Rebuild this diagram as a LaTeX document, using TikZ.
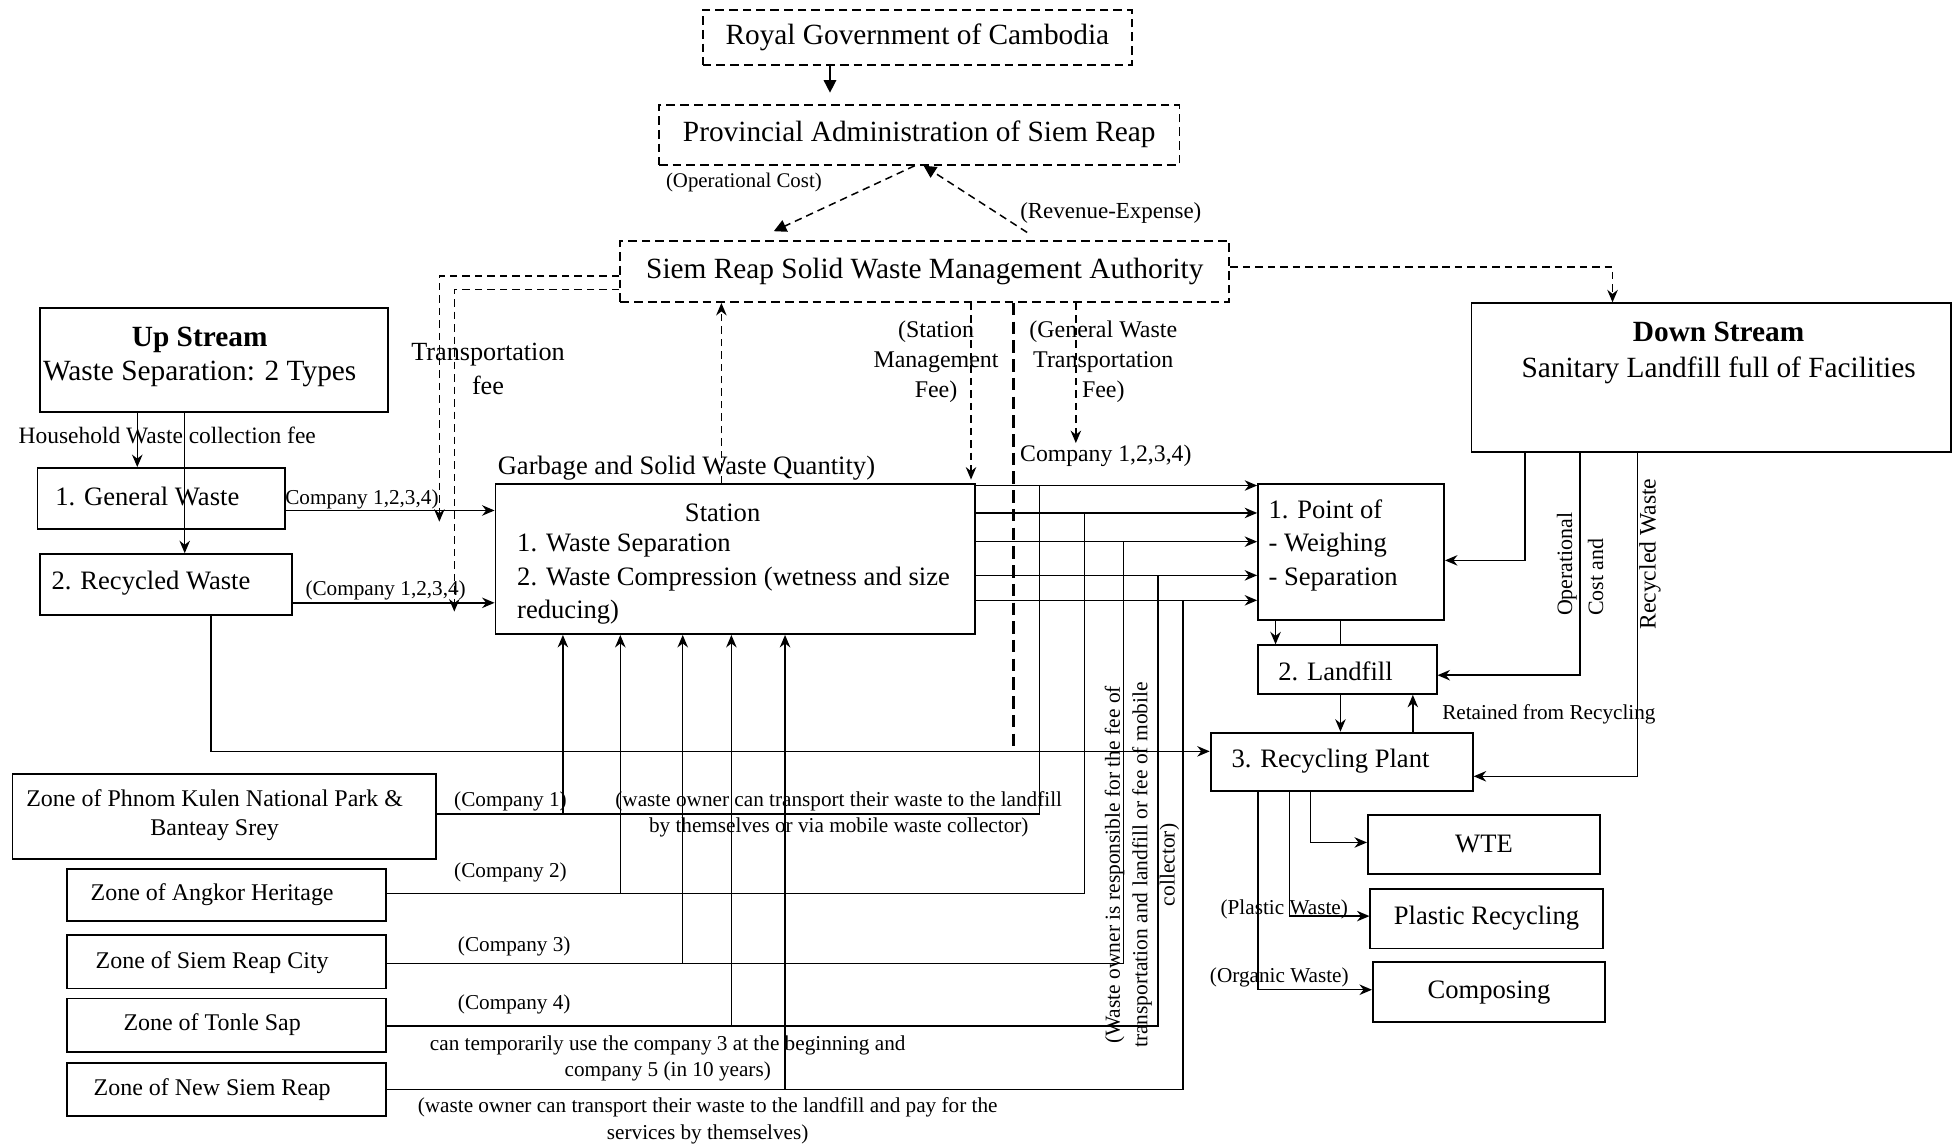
\documentclass[tikz,border=0pt]{standalone}
\usepackage{fontspec}
\setmainfont{Liberation Serif}
\usetikzlibrary{arrows.meta,calc}
\newcommand\fA{\fontsize{11.75pt}{14pt}\selectfont}
\newcommand\fB{\fontsize{10.65pt}{13.3pt}\selectfont}
\newcommand\fZ{\fontsize{9.6pt}{11.5pt}\selectfont}
\newcommand\fL{\fontsize{8.5pt}{10.75pt}\selectfont}
\begin{document}
\begin{tikzpicture}[x=0.5pt,y=-0.5pt,
  box/.style={draw,line width=0.75pt,inner sep=0pt},
  dbox/.style={box,dash pattern=on 3.5pt off 2pt},
  txt/.style={inner sep=0pt,align=center},
  ln/.style={line width=0.6pt},
  stl/.style={ln,-{Stealth[length=5pt,width=4.2pt]}},
  tri/.style={ln,-{Triangle[length=5pt,width=5pt]}},
  dsh/.style={dash pattern=on 3pt off 2pt},
]
\fill[white] (0,0) rectangle (1568,919);
\useasboundingbox (0,0) rectangle (1568,919);

% ---------- top boxes ----------
\node[dbox,minimum width=172pt,minimum height=22pt,font=\fA] (roy) at (735,30) {Royal Government of Cambodia};
\node[dbox,minimum width=208.5pt,minimum height=24pt,font=\fA] (prov) at (736.5,108) {Provincial Administration of Siem Reap};
\node[dbox,minimum width=244pt,minimum height=24.5pt,font=\fA] (auth) at (741,217.5) {Siem Reap Solid Waste Management Authority};

% ---------- up / down stream ----------
\node[box,minimum width=139.5pt,minimum height=41.5pt] (up) at (171.5,288.5) {};
\node[txt,font=\fA] (upt) at (160,286) {\textbf{Up Stream}\\Waste Separation: 2 Types};
\node[box,minimum width=192pt,minimum height=59.5pt] (down) at (1371,302.5) {};
\node[txt,font=\fontsize{11.75pt}{14.5pt}\selectfont] (downt) at (1377,283) {\textbf{Down Stream}\\Sanitary Landfill full of Facilities};

% ---------- waste types ----------
\node[box,minimum width=99pt,minimum height=24.5pt] (gen) at (129,399.5) {};
\node[txt,anchor=west,font=\fB] (gent) at (44,398) {1. General Waste};
\node[box,minimum width=101pt,minimum height=24.5pt] (rec) at (133,468.5) {};
\node[txt,anchor=west,font=\fB] (rect) at (41,467) {2. Recycled Waste};

% ---------- station ----------
\node[box,minimum width=192pt,minimum height=60pt] (station) at (589,448) {};
\node[txt,font=\fB] (stt) at (579,411) {Station};
\node[txt,anchor=west,align=left,font=\fB] (stl2) at (414,464) {1. Waste Separation\\2. Waste Compression (wetness and size\\reducing)};

% ---------- landfill side ----------
\node[box,minimum width=74.5pt,minimum height=54.5pt] (point) at (1082.5,442.5) {};
\node[txt,anchor=west,align=left,font=\fB] (pointt) at (1016,437) {1. Point of\\- Weighing\\- Separation};
\node[box,minimum width=71.5pt,minimum height=19.5pt] (landfill) at (1079.5,536.5) {};
\node[txt,font=\fB] (landfillt) at (1070,538) {2. Landfill};
\node[box,minimum width=105pt,minimum height=23.5pt] (recyc) at (1075,610.5) {};
\node[txt,font=\fB] (recyct) at (1066,610) {3. Recycling Plant};
\node[box,minimum width=93pt,minimum height=23.5pt,font=\fB] (wte) at (1189,676.5) {WTE};
\node[box,minimum width=93pt,minimum height=24pt,font=\fB] (plastic) at (1191,736) {Plastic Recycling};
\node[box,minimum width=93pt,minimum height=24pt,font=\fB] (compo) at (1193,795) {Composing};

% ---------- zones ----------
\node[box,minimum width=169.5pt,minimum height=34pt] (z1) at (179.5,654) {};
\node[txt,font=\fZ] (z1t) at (172,653) {Zone of Phnom Kulen National Park \&\\Banteay Srey};
\node[box,minimum width=127.5pt,minimum height=21pt] (z2) at (181.5,717) {};
\node[txt,font=\fZ] (z2t) at (170,717) {Zone of Angkor Heritage};
\node[box,minimum width=127.5pt,minimum height=21.5pt] (z3) at (181.5,770.5) {};
\node[txt,font=\fZ] (z3t) at (170,771) {Zone of Siem Reap City};
\node[box,minimum width=127.5pt,minimum height=21.5pt] (z4) at (181.5,821.5) {};
\node[txt,font=\fZ] (z4t) at (170,821) {Zone of Tonle Sap};
\node[box,minimum width=127.5pt,minimum height=21pt] (z5) at (181.5,873) {};
\node[txt,font=\fZ] (z5t) at (170,873) {Zone of New Siem Reap};

% ---------- labels ----------
\node[txt,font=\fontsize{8.35pt}{10pt}\selectfont] (lopc) at (596,146) {(Operational Cost)};
\node[txt,font=\fontsize{9.2pt}{11pt}\selectfont] (lrev) at (890,171) {(Revenue-Expense)};
\node[txt,font=\fontsize{10.5pt}{13.5pt}\selectfont] (ltr) at (391,295.5) {Transportation\\fee};
\node[txt,font=\fontsize{9.4pt}{11pt}\selectfont] (lhh) at (134,349) {Household Waste collection fee};
\node[txt,font=\fL] (lc1) at (290,400) {Company 1,2,3,4)};
\node[txt,font=\fL] (lc2) at (309,473) {(Company 1,2,3,4)};
\node[txt,font=\fB] (lgar) at (550,375) {Garbage and Solid Waste Quantity)};
\node[txt,font=\fontsize{9.6pt}{12pt}\selectfont] (lsmf) at (750,290) {(Station\\Management\\Fee)};
\node[txt,font=\fontsize{9.6pt}{12pt}\selectfont] (lgwt) at (884,290) {(General Waste\\Transportation\\Fee)};
\node[txt,font=\fontsize{9.5pt}{11pt}\selectfont] (lc3) at (886,365) {Company 1,2,3,4)};
\node[txt,font=\fL] (lk1) at (409,642) {(Company 1)};
\node[txt,font=\fL] (lk2) at (409,699) {(Company 2)};
\node[txt,font=\fL] (lk3) at (412,758) {(Company 3)};
\node[txt,font=\fL] (lk4) at (412,805) {(Company 4)};
\node[txt,font=\fL] (lw1) at (672,652.5) {(waste owner can transport their waste to the landfill\\by themselves or via mobile waste collector)};
\node[txt,font=\fL] (lw2) at (535,848) {can temporarily use the company 3 at the beginning and\\company 5 (in 10 years)};
\node[txt,font=\fL] (lw3) at (567,898) {(waste owner can transport their waste to the landfill and pay for the\\services by themselves)};
\node[txt,rotate=90,font=\fontsize{8.6pt}{11pt}\selectfont] (lw4) at (915,693) {(Waste owner is responsible for the fee of\\transportation and landfill or fee of mobile\\collector)};
\node[txt,rotate=90,align=left,font=\fontsize{8.8pt}{12.5pt}\selectfont] (lop) at (1266,452) {Operational\\Cost and};
\node[txt,rotate=90,font=\fontsize{9.45pt}{11pt}\selectfont] (lrw) at (1322,444) {Recycled Waste};
\node[txt,font=\fL] (lret) at (1241,572) {Retained from Recycling};
\node[txt,font=\fL] (lpw) at (1029,729) {(Plastic Waste)};
\node[txt,font=\fL] (low) at (1025,783) {(Organic Waste)};

% ---------- governance connectors ----------
\draw[tri] (roy.south -| 665,0) -- ($(prov.north -| 665,0)+(0,-9)$);
\draw[tri,dsh] (prov.south -| 733,0) -- ($(auth.north -| 620,0)+(0,-7)$);
\draw[tri,dsh] ($(auth.north -| 823,0)+(0,-6)$) -- (prov.south -| 740,0);
\draw[stl,dsh] (auth.east |- 0,214) -| (down.north -| 1292,0);
\coordinate (t1) at (352,418);
\coordinate (t2) at (364,490);
\draw[stl,dsh] (auth.west |- 0,221) -| (t1);
\draw[stl,dsh] (auth.west |- 0,232) -| (t2);
\draw[stl,dsh] (station.north -| 578,0) -- (auth.south -| 578,0);
\draw[stl,dsh] (auth.south -| 778,0) -- ($(station.north -| 778,0)+(0,-3)$);
\coordinate (jd) at (812,602);
\draw[dash pattern=on 5pt off 2.5pt,line width=0.9pt] (auth.south -| 812,0) -- (jd);
\coordinate (t3) at (862,355);
\draw[stl,dsh] (auth.south -| 862,0) -- (t3);

% ---------- upstream flows ----------
\draw[stl] (up.south -| 110,0) -- (gen.north -| 110,0);
\draw[stl] (up.south -| 148,0) -- (rec.north -| 148,0);
\draw[stl] (gen.east |- 0,409) -- (station.west |- 0,409);
\draw[stl] (rec.east |- 0,483) -- (station.west |- 0,483);
\draw[stl] (rec.south -| 169,0) |- (recyc.west |- 0,602);

% ---------- station to point ----------
\foreach \yy in {389,411,434,461,481}
  \draw[stl] (station.east |- 0,\yy) -- (point.west |- 0,\yy);

% ---------- zones ----------
\foreach \z/\zy/\xa/\ya/\xb in {z1/652/833/389/451,z2/716/869/411/497,z3/772/900/434/547,z4/822/928/461/586,z5/873/948/481/629}{
  \coordinate (j\z) at (\xa,\ya);
  \coordinate (k\z) at (\xb,\zy);
  \draw[ln] (\z.east |- 0,\zy) -| (j\z);
  \draw[stl] (k\z) -- (station.south -| \xb,0);
}

% ---------- landfill side ----------
\draw[stl] (point.south -| 1022,0) -- (landfill.north -| 1022,0);
\draw[ln] (point.south -| 1074,0) -- (landfill.north -| 1074,0);
\draw[stl] (landfill.south -| 1074,0) -- (recyc.north -| 1074,0);
\draw[stl] (recyc.north -| 1132,0) -- (landfill.south -| 1132,0);
\draw[stl] (down.south -| 1222,0) |- (point.east |- 0,449);
\draw[stl] (down.south -| 1266,0) |- (landfill.east |- 0,541);
\draw[stl] (down.south -| 1312,0) |- (recyc.east |- 0,622);
\draw[stl] (recyc.south -| 1050,0) |- (wte.west |- 0,675);
\draw[stl] (recyc.south -| 1033,0) |- (plastic.west |- 0,734);
\draw[stl] (recyc.south -| 1008,0) |- (compo.west |- 0,793);
\end{tikzpicture}
\end{document}
